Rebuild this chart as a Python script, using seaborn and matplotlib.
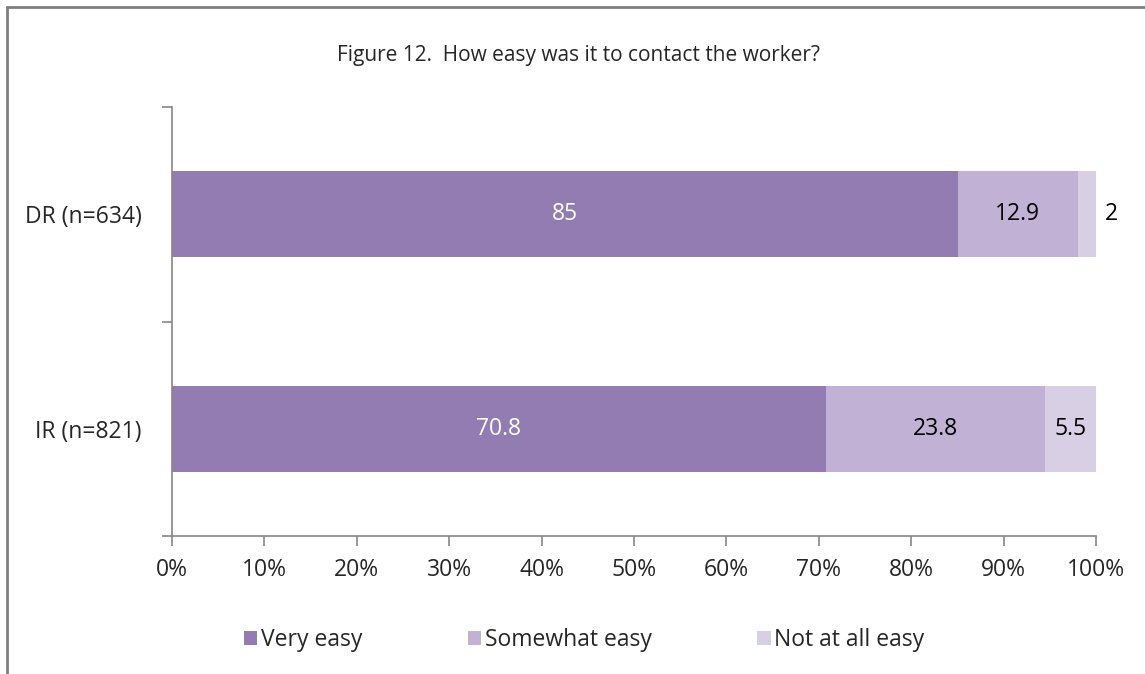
import matplotlib
matplotlib.use("Agg")
import matplotlib.pyplot as plt
from matplotlib.lines import Line2D
from matplotlib.patches import Patch
import numpy as np
import pandas as pd
import seaborn as sns

# Survey responses (percent) per group
groups = ["DR (n=634)", "IR (n=821)"]
series = ["Very easy", "Somewhat easy", "Not at all easy"]
very_easy = [85, 70.8]
somewhat_easy = [12.9, 23.8]
not_at_all_easy = [2, 5.5]
colors = ["#937cb1", "#c1b2d5", "#d8cfe4"]
label_colors = ["white", "black", "black"]
x_ticks = [0, 10, 20, 30, 40, 50, 60, 70, 80, 90, 100]

sns.set_style("white")
plt.rcParams["font.family"] = ["Open Sans", "DejaVu Sans"]

FS = 16.5

values = np.array([very_easy, somewhat_easy, not_at_all_easy], dtype=float)  # series x groups
shares = values / values.sum(axis=0) * 100  # 100% stacked
cum = np.cumsum(shares, axis=0)

fig = plt.figure(figsize=(11.45, 6.74), dpi=100)
ax = fig.add_axes([172 / 1145, 1 - 536 / 674, 924 / 1145, 429 / 674])

# Draw cumulative totals from the outermost segment inward so each shorter bar overlays the longer
for i in reversed(range(len(series))):
    df = pd.DataFrame({"group": groups, "value": cum[i]})
    sns.barplot(data=df, x="value", y="group", order=groups, orient="h",
                color=colors[i], saturation=1, width=0.4, edgecolor="none",
                ax=ax, zorder=2)

# Segment value labels
for j, g in enumerate(groups):
    for i in range(len(series)):
        start = cum[i, j] - shares[i, j]
        center = start + shares[i, j] / 2
        v = values[i, j]
        txt = f"{v:g}"
        if shares[i, j] < 3:
            ax.text(101.7, j, txt, ha="center", va="center", fontsize=FS,
                    color="black", clip_on=False)
        else:
            ax.text(center, j, txt, ha="center", va="center", fontsize=FS,
                    color=label_colors[i])

ax.set_xlim(0, 100)
ax.set_ylim(1.5, -0.5)
ax.set_xticks(x_ticks)
ax.set_xticklabels([f"{t}%" for t in x_ticks], fontsize=FS)
ax.set_xlabel("")
ax.set_ylabel("")

# Category axis: tick marks on band boundaries, labels at band centers
ax.set_yticks([-0.5, 0.5, 1.5])
ax.set_yticklabels([])
ax.set_yticks([0, 1], minor=True)
ax.set_yticklabels(groups, minor=True, fontsize=FS)
ax.tick_params(axis="y", which="minor", length=0, pad=22)
ax.tick_params(axis="y", which="major", length=7, width=1.2, color="#868686",
               direction="out", left=True)
ax.tick_params(axis="x", length=7, width=1.2, color="#868686", direction="out",
               bottom=True, pad=9)

for side in ["top", "right"]:
    ax.spines[side].set_visible(False)
for side in ["left", "bottom"]:
    ax.spines[side].set_color("#868686")
    ax.spines[side].set_linewidth(1.2)

fig.text(0.505, 1 - 56 / 674, "Figure 12.  How easy was it to contact the worker?",
         ha="center", va="center", fontsize=15)

handles = [Patch(facecolor=c, edgecolor="none") for c in colors]
fig.legend(handles, series, loc="center", bbox_to_anchor=(0.51, 1 - 640 / 674),
           ncol=3, frameon=False, fontsize=FS, handlelength=0.6, handleheight=0.6,
           handletextpad=0.15, columnspacing=4.6)

# Chart frame
fig.add_artist(Line2D([7 / 1145, 7 / 1145], [0, 1 - 7 / 674], color="#7f7f7f",
                      lw=2, transform=fig.transFigure))
fig.add_artist(Line2D([7 / 1145, 1], [1 - 7 / 674, 1 - 7 / 674], color="#7f7f7f",
                      lw=2, transform=fig.transFigure))

fig.savefig("out.png", dpi=100)
